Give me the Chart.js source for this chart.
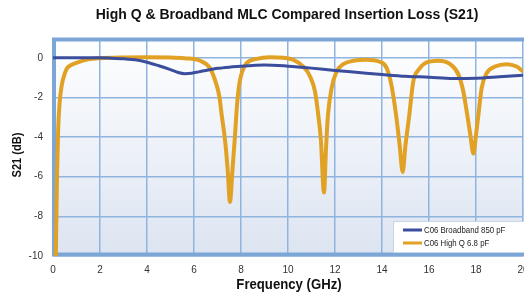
<!DOCTYPE html>
<html>
<head>
<meta charset="utf-8">
<script src="https://cdn.jsdelivr.net/npm/chart.js@4"></script>
<style>
  html, body { margin: 0; padding: 0; background: #fff; overflow: hidden; }
  #wrap { width: 540px; height: 294px; }
</style>
</head>
<body>
<div id="wrap"><canvas id="chart-s21" width="540" height="294"></canvas></div>
<script>
// Insertion loss S21 (dB) vs frequency (GHz)
const broadbandFreq = [0, 1, 2, 2.5, 3, 3.5, 4, 4.5, 5, 5.3, 5.6, 5.9, 6.2, 6.6, 7, 7.5, 8, 8.5, 9, 10, 11, 12, 13, 14, 15, 16, 17, 18, 19, 20];
const broadbandLoss = [0, 0, 0, -0.02, -0.05, -0.1, -0.22, -0.4, -0.6, -0.73, -0.8, -0.78, -0.71, -0.61, -0.53, -0.47, -0.43, -0.39, -0.36, -0.42, -0.52, -0.64, -0.74, -0.84, -0.93, -0.98, -1.04, -1.03, -0.96, -0.88];

const highQFreq = [0.12, 0.17, 0.22, 0.28, 0.37, 0.5, 0.6, 0.8, 1, 1.5, 2, 3, 4, 5, 5.6,
  6.26, 6.68, 6.96, 7.08, 7.18, 7.32, 7.43, 7.53, 7.64, 7.74, 7.83, 7.93, 8.05, 8.24, 8.67, 9.23, 9.8,
  10.23, 10.65, 10.94, 11.15, 11.29, 11.4, 11.53, 11.62, 11.7, 11.86, 12.07, 12.35, 12.78, 13.3, 13.9,
  14.2, 14.4, 14.6, 14.75, 14.88, 15.0, 15.16, 15.33, 15.55, 15.83, 16.4, 16.9,
  17.26, 17.46, 17.63, 17.76, 17.89, 18.0, 18.1, 18.24, 18.45, 18.81, 19.31, 19.73, 20];
const highQLoss = [-10, -6, -3.6, -2.3, -1.4, -0.8, -0.52, -0.35, -0.25, -0.08, -0.02, 0.02, 0.03, 0.02, -0.02,
  -0.15, -0.52, -1.37, -1.96, -2.9, -4.15, -5.6, -7.27, -5.6, -4.0, -2.4, -1.3, -0.7, -0.27, -0.05, 0.03, 0.0,
  -0.1, -0.44, -0.94, -1.7, -2.9, -4.15, -6.8, -4.5, -2.9, -1.5, -0.69, -0.32, -0.15, -0.1, -0.2,
  -0.52, -1.37, -2.9, -4.4, -5.76, -4.4, -2.9, -1.2, -0.61, -0.27, -0.15, -0.32,
  -0.86, -1.7, -2.9, -3.9, -4.83, -3.9, -2.9, -1.53, -0.78, -0.44, -0.32, -0.44, -0.69];

const seriesLabels = ["C06 Broadband 850 pF", "C06 High Q 6.8 pF"];
const xTicks = [0, 2, 4, 6, 8, 10, 12, 14, 16, 18, 20];
const yTicks = [0, -2, -4, -6, -8, -10];

const toPoints = (xs, ys) => xs.map((x, i) => ({ x: x, y: ys[i] }));

const BLUE = "#3b4e9d";
const ORANGE = "#e1a124";
const FRAME = "#7ba6d6";
const GRID = "#8fb4de";
const FONT = "'Liberation Sans', Arial, sans-serif";

// texto "condensado": se estrecha horizontalmente
function narrowText(ctx, text, x, y, sx) {
  ctx.save();
  ctx.translate(x, y);
  ctx.scale(sx, 1);
  ctx.fillText(text, 0, 0);
  ctx.restore();
}

// fondo degradado + marco + textos + leyenda
const decor = {
  id: "decor",
  beforeDraw(chart) {
    const { ctx, chartArea: a } = chart;
    ctx.save();
    ctx.fillStyle = "#fff";
    ctx.fillRect(0, 0, chart.width, chart.height);
    const g = ctx.createLinearGradient(0, a.top, 0, a.bottom);
    g.addColorStop(0, "#ffffff");
    g.addColorStop(1, "#dce4f1");
    ctx.fillStyle = g;
    ctx.fillRect(a.left, a.top, a.right - a.left + 30, a.bottom - a.top);
    ctx.restore();
  },
  beforeDatasetsDraw(chart) {
    const { ctx, chartArea: a } = chart;
    ctx.save();
    ctx.strokeStyle = FRAME;
    ctx.lineWidth = 4;
    ctx.beginPath();
    ctx.moveTo(a.right + 30, a.top + 1.5);
    ctx.lineTo(a.left + 1, a.top + 1.5);
    ctx.lineTo(a.left + 1, a.bottom - 1.5);
    ctx.lineTo(a.right + 30, a.bottom - 1.5);
    ctx.stroke();
    ctx.restore();
  },
  afterDraw(chart) {
    const { ctx, chartArea: a } = chart;
    ctx.save();
    ctx.fillStyle = "#111";
    ctx.textAlign = "center";
    ctx.textBaseline = "middle";
    // titulo
    ctx.font = "bold 14px " + FONT;
    ctx.fillText("High Q & Broadband MLC Compared Insertion Loss (S21)", 287, 15);
    // titulo eje x
    ctx.font = "bold 14px " + FONT;
    narrowText(ctx, "Frequency (GHz)", (a.left + a.right) / 2 + 1, 285, 0.94);
    // titulo eje y
    ctx.save();
    ctx.translate(17, 155);
    ctx.rotate(-Math.PI / 2);
    ctx.font = "bold 13px " + FONT;
    narrowText(ctx, "S21 (dB)", 0, 0, 0.85);
    ctx.restore();
    // leyenda
    const lx = 393, ly = 221, lh = 31;
    ctx.fillStyle = "#fff";
    ctx.fillRect(lx, ly, 160, lh);
    ctx.strokeStyle = "#c9d6e8";
    ctx.lineWidth = 1;
    ctx.strokeRect(lx + 0.5, ly + 0.5, 160, lh);
    ctx.textAlign = "left";
    ctx.font = "9px " + FONT;
    chart.data.datasets.forEach((ds, i) => {
      const y = 230 + i * 13;
      ctx.strokeStyle = ds.borderColor;
      ctx.lineWidth = 3;
      ctx.beginPath();
      ctx.moveTo(403, y);
      ctx.lineTo(422, y);
      ctx.stroke();
      ctx.fillStyle = "#222";
      narrowText(ctx, ds.label, 424, y + 0.5, 0.87);
    });
    ctx.restore();
  },
};

new Chart(document.getElementById("chart-s21"), {
  type: "line",
  data: {
    datasets: [
      {
        label: seriesLabels[0],
        data: toPoints(broadbandFreq, broadbandLoss),
        borderColor: BLUE,
        backgroundColor: BLUE,
        borderWidth: 3,
        pointRadius: 0,
        cubicInterpolationMode: "monotone",
      },
      {
        label: seriesLabels[1],
        data: toPoints(highQFreq, highQLoss),
        borderColor: ORANGE,
        backgroundColor: ORANGE,
        borderWidth: 4,
        pointRadius: 0,
        cubicInterpolationMode: "monotone",
      },
    ],
  },
  options: {
    responsive: false,
    animation: false,
    layout: { padding: { top: 38, right: 17, left: 0, bottom: 0 } },
    plugins: {
      legend: { display: false },
      title: { display: false },
      tooltip: { enabled: false },
    },
    scales: {
      x: {
        type: "linear",
        min: 0,
        max: 20,
        afterFit: (s) => { s.height = 38; },
        afterBuildTicks: (s) => { s.ticks = xTicks.map((v) => ({ value: v })); },
        grid: { color: GRID, lineWidth: 1.5, drawTicks: false },
        border: { display: false },
        ticks: {
          padding: 8,
          color: "#333",
          font: { size: 10, family: FONT },
          maxRotation: 0,
        },
      },
      y: {
        type: "linear",
        min: -10,
        max: 1,
        afterFit: (s) => { s.width = 53; },
        afterBuildTicks: (s) => { s.ticks = yTicks.map((v) => ({ value: v })); },
        grid: { color: GRID, lineWidth: 1.5, drawTicks: false },
        border: { display: false },
        ticks: {
          padding: 10,
          color: "#333",
          font: { size: 10, family: FONT },
        },
      },
    },
  },
  plugins: [decor],
});
</script>
</body>
</html>
